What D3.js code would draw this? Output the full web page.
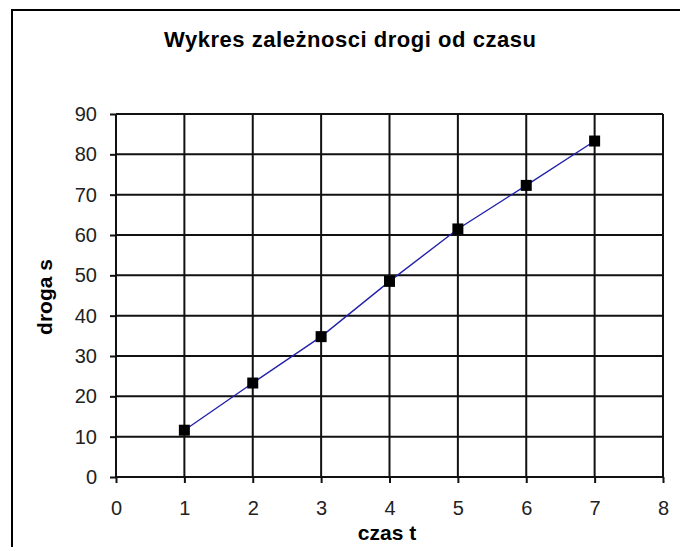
<!DOCTYPE html>
<html>
<head>
<meta charset="utf-8">
<script src="https://cdn.jsdelivr.net/npm/d3@7"></script>
<style>
  body { margin: 0; background: #fff; }
  svg { display: block; font-family: "Liberation Sans", Arial, sans-serif; }
</style>
</head>
<body>
<div id="chart"></div>
<script>
// data
const czas = [1, 2, 3, 4, 5, 6, 7];
const droga = [11.6, 23.3, 34.8, 48.5, 61.5, 72.3, 83.3];
const xTicks = [0, 1, 2, 3, 4, 5, 6, 7, 8];
const yTicks = [0, 10, 20, 30, 40, 50, 60, 70, 80, 90];

const width = 680, height = 547;
const margin = {top: 114, right: 17, bottom: 70, left: 116};
const w = width - margin.left - margin.right,
      h = height - margin.top - margin.bottom;

const svg = d3.select("#chart").append("svg")
    .attr("width", width)
    .attr("height", height);

// outer frame (only top and left visible)
svg.append("rect")
    .attr("x", 12).attr("y", 10)
    .attr("width", 760).attr("height", 640)
    .attr("fill", "none")
    .attr("stroke", "#000")
    .attr("stroke-width", 2);

svg.append("text")
    .attr("x", 350).attr("y", 47)
    .attr("text-anchor", "middle")
    .attr("font-size", 22)
    .attr("font-weight", "bold")
    .attr("textLength", 372)
    .text("Wykres zależnosci drogi od czasu");

const g = svg.append("g")
    .attr("transform", "translate(" + margin.left + "," + margin.top + ")");

const x = d3.scaleLinear().domain([0, 8]).range([0, w]);
const y = d3.scaleLinear().domain([0, 90]).range([h, 0]);

// grid
g.append("g").selectAll("line")
    .data(yTicks).enter().append("line")
    .attr("x1", 0).attr("x2", w)
    .attr("y1", d => y(d)).attr("y2", d => y(d))
    .attr("stroke", "#111").attr("stroke-width", 2);

g.append("g").selectAll("line")
    .data(xTicks).enter().append("line")
    .attr("y1", 0).attr("y2", h)
    .attr("x1", d => x(d)).attr("x2", d => x(d))
    .attr("stroke", "#111").attr("stroke-width", 2);

// axes
const xAxis = g.append("g")
    .attr("transform", "translate(0," + h + ")")
    .call(d3.axisBottom(x).tickValues(xTicks).tickSize(6).tickPadding(18).tickFormat(d3.format("d")));
const yAxis = g.append("g")
    .call(d3.axisLeft(y).tickValues(yTicks).tickSize(6).tickPadding(13).tickFormat(d3.format("d")));

[xAxis, yAxis].forEach(a => {
    a.select(".domain").remove();
    a.selectAll(".tick line").attr("stroke", "#111").attr("stroke-width", 2);
    a.selectAll(".tick text")
        .attr("font-size", 20)
        .attr("font-family", "Liberation Sans, Arial, sans-serif")
        .attr("fill", "#222");
});

// axis titles
svg.append("text")
    .attr("x", 387).attr("y", 540)
    .attr("text-anchor", "middle")
    .attr("font-size", 21)
    .attr("font-weight", "bold")
    .text("czas t");

svg.append("text")
    .attr("transform", "translate(52,297) rotate(-90)")
    .attr("text-anchor", "middle")
    .attr("font-size", 21)
    .attr("font-weight", "bold")
    .text("droga s");

// line
const points = czas.map((t, i) => ({t: t, s: droga[i]}));
g.append("path")
    .datum(points)
    .attr("fill", "none")
    .attr("stroke", "#2222aa")
    .attr("stroke-width", 1.4)
    .attr("d", d3.line().x(d => x(d.t)).y(d => y(d.s)));

// markers
const size = 11;
g.append("g").selectAll("rect")
    .data(points).enter().append("rect")
    .attr("x", d => x(d.t) - size / 2)
    .attr("y", d => y(d.s) - size / 2)
    .attr("width", size).attr("height", size)
    .attr("fill", "#000");
</script>
</body>
</html>
